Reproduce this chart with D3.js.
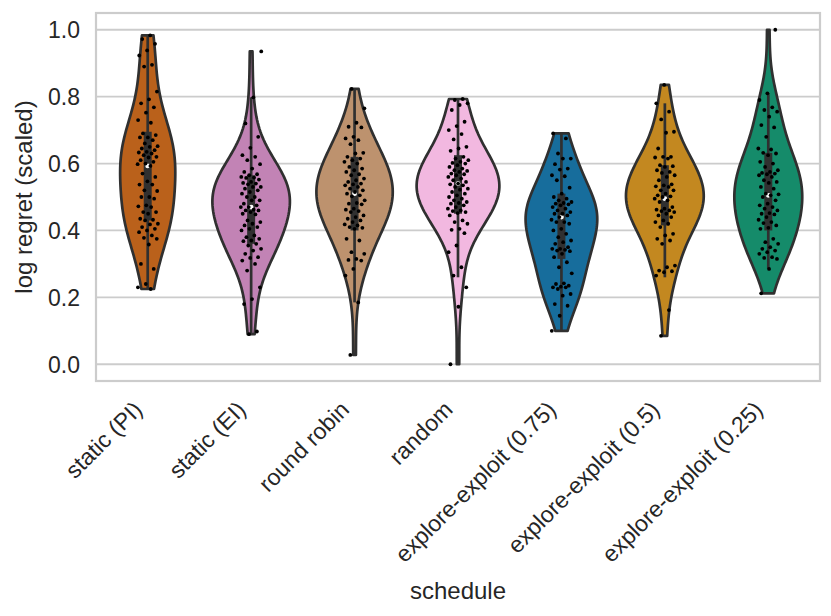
<!doctype html>
<html lang="en">
<head>
  <meta charset="utf-8">
  <title>log regret by schedule</title>
  <style>
    body {
      margin: 0;
      background: #fff;
    }
    svg {
      font-family: "Liberation Sans", Arial, sans-serif;
    }
    .grid line {
      stroke: #cccccc;
      stroke-width: 1.8px;
    }
    .frame {
      fill: none;
      stroke: #cccccc;
      stroke-width: 2.2px;
    }
    .tick-label {
      font-size: 23px;
      fill: #262626;
    }
    .axis-label {
      font-size: 24px;
      fill: #262626;
    }
  </style>
</head>
<body>
  <div id="chart"></div>

  <script src="https://d3js.org/d3.v7.min.js"></script>
  <script>
    // categories and their (desaturated later) colorblind colours
    var schedules = ["static (PI)", "static (EI)", "round robin", "random",
      "explore-exploit (0.75)", "explore-exploit (0.5)", "explore-exploit (0.25)"]
    var baseColors = ["#D55E00", "#CC78BC", "#CA9161", "#FBAFE4", "#0173B2", "#DE8F05", "#029E73"]

    var staticPI = [0.983, 0.972, 0.958, 0.938, 0.923, 0.895, 0.89, 0.815, 0.792, 0.78, 0.768, 0.752,
      0.73, 0.722, 0.69, 0.685, 0.678, 0.678, 0.67, 0.66, 0.652, 0.65, 0.645, 0.64, 0.635, 0.633, 0.63,
      0.625, 0.62, 0.618, 0.61, 0.605, 0.60, 0.598, 0.593, 0.57, 0.56, 0.547, 0.537, 0.537, 0.52, 0.518,
      0.50, 0.50, 0.495, 0.475, 0.472, 0.47, 0.455, 0.455, 0.45, 0.435, 0.432, 0.43, 0.42, 0.418, 0.41,
      0.405, 0.40, 0.395, 0.385, 0.378, 0.375, 0.358, 0.30, 0.285, 0.24, 0.23, 0.225]
    var staticEI = [0.935, 0.798, 0.72, 0.68, 0.647, 0.625, 0.62, 0.61, 0.598, 0.585, 0.575, 0.568,
      0.565, 0.56, 0.558, 0.557, 0.552, 0.545, 0.542, 0.54, 0.538, 0.53, 0.53, 0.525, 0.52, 0.515, 0.51,
      0.50, 0.50, 0.49, 0.49, 0.48, 0.475, 0.47, 0.47, 0.462, 0.46, 0.46, 0.455, 0.45, 0.448, 0.43, 0.425,
      0.42, 0.415, 0.41, 0.405, 0.40, 0.385, 0.38, 0.375, 0.37, 0.368, 0.36, 0.355, 0.345, 0.34, 0.33,
      0.32, 0.318, 0.31, 0.30, 0.28, 0.23, 0.195, 0.18, 0.098, 0.09]
    var roundRobin = [0.823, 0.765, 0.722, 0.71, 0.708, 0.68, 0.675, 0.67, 0.658, 0.632, 0.63, 0.62,
      0.615, 0.61, 0.605, 0.60, 0.59, 0.585, 0.58, 0.575, 0.568, 0.565, 0.555, 0.55, 0.545, 0.54, 0.538,
      0.535, 0.53, 0.525, 0.52, 0.515, 0.51, 0.505, 0.502, 0.49, 0.482, 0.48, 0.478, 0.465, 0.462, 0.458,
      0.455, 0.445, 0.44, 0.435, 0.43, 0.425, 0.418, 0.415, 0.41, 0.408, 0.405, 0.375, 0.37, 0.335, 0.33,
      0.315, 0.312, 0.31, 0.285, 0.265, 0.185, 0.028]
    var randomSched = [0.793, 0.79, 0.78, 0.775, 0.76, 0.725, 0.712, 0.70, 0.688, 0.672, 0.65, 0.645,
      0.638, 0.62, 0.615, 0.61, 0.605, 0.602, 0.60, 0.595, 0.59, 0.585, 0.58, 0.578, 0.575, 0.57, 0.568,
      0.565, 0.56, 0.555, 0.55, 0.545, 0.54, 0.538, 0.535, 0.53, 0.525, 0.522, 0.515, 0.51, 0.505, 0.50,
      0.495, 0.49, 0.485, 0.482, 0.48, 0.475, 0.47, 0.465, 0.46, 0.458, 0.455, 0.452, 0.445, 0.43,
      0.425, 0.42, 0.405, 0.402, 0.392, 0.355, 0.335, 0.29, 0.265, 0.23, 0.172, 0.0]
    var explore075 = [0.69, 0.675, 0.63, 0.615, 0.615, 0.598, 0.585, 0.582, 0.565, 0.562, 0.55, 0.528,
      0.51, 0.50, 0.495, 0.49, 0.485, 0.482, 0.48, 0.478, 0.475, 0.47, 0.465, 0.46, 0.455, 0.45, 0.45,
      0.445, 0.44, 0.432, 0.425, 0.425, 0.42, 0.405, 0.40, 0.39, 0.38, 0.37, 0.365, 0.36, 0.35, 0.345,
      0.345, 0.342, 0.34, 0.338, 0.33, 0.32, 0.305, 0.29, 0.272, 0.242, 0.24, 0.235, 0.232, 0.23, 0.23,
      0.225, 0.21, 0.205, 0.18, 0.175, 0.145, 0.10]
    var explore05 = [0.835, 0.78, 0.755, 0.732, 0.695, 0.692, 0.645, 0.62, 0.62, 0.618, 0.615, 0.595,
      0.592, 0.59, 0.58, 0.575, 0.572, 0.565, 0.56, 0.55, 0.538, 0.535, 0.532, 0.53, 0.52, 0.52, 0.51,
      0.505, 0.502, 0.50, 0.495, 0.49, 0.485, 0.47, 0.465, 0.462, 0.46, 0.458, 0.455, 0.45, 0.445, 0.44,
      0.43, 0.425, 0.42, 0.41, 0.39, 0.385, 0.375, 0.37, 0.36, 0.295, 0.29, 0.28, 0.278, 0.275, 0.265,
      0.162, 0.085]
    var explore025 = [1.0, 0.81, 0.79, 0.768, 0.76, 0.755, 0.74, 0.715, 0.708, 0.68, 0.645, 0.642,
      0.632, 0.63, 0.625, 0.605, 0.60, 0.59, 0.58, 0.575, 0.572, 0.57, 0.568, 0.565, 0.56, 0.55, 0.545,
      0.542, 0.53, 0.525, 0.51, 0.508, 0.505, 0.50, 0.49, 0.48, 0.475, 0.47, 0.465, 0.46, 0.452, 0.45,
      0.448, 0.44, 0.432, 0.425, 0.422, 0.415, 0.408, 0.405, 0.375, 0.365, 0.36, 0.35, 0.345, 0.34,
      0.335, 0.33, 0.32, 0.318, 0.315, 0.285, 0.212]

    // inner box
    var boxQ1 = [0.43, 0.36, 0.40, 0.45, 0.315, 0.415, 0.40]
    var boxMedian = [0.593, 0.47, 0.51, 0.54, 0.44, 0.495, 0.505]
    var boxQ3 = [0.695, 0.565, 0.62, 0.625, 0.51, 0.595, 0.632]
    var whiskerLo = [0.225, 0.09, 0.185, 0.26, 0.10, 0.26, 0.285]
    var whiskerHi = [0.983, 0.798, 0.823, 0.793, 0.69, 0.78, 0.81]

    var yTicks = [0, 0.2, 0.4, 0.6, 0.8, 1.0]

    var observations = [staticPI, staticEI, roundRobin, randomSched, explore075, explore05, explore025]

    var width = 831, height = 616
    var plotLeft = 96, plotRight = 820, plotTop = 13, plotBottom = 381
    var gray = "#303030"
    var bwAdjust = 1.2

    var svg = d3.select("#chart").append("svg")
      .attr("width", width)
      .attr("height", height)

    var x = d3.scaleBand().domain(schedules).range([plotLeft, plotRight]).padding(0)
    var y = d3.scaleLinear().domain([-0.05, 1.05]).range([plotBottom, plotTop])

    var colors = baseColors.map(function(c) {
      var h = d3.hsl(c)
      h.s *= 0.75
      return h.formatHex()
    })

    // gaussian kde, scott bandwidth, cut at the data range
    function kde(values) {
      var n = values.length
      var bw = d3.deviation(values) * Math.pow(n, -0.2) * bwAdjust
      var lo = d3.min(values), hi = d3.max(values)
      return d3.range(100).map(function(i) {
        var g = lo + (hi - lo) * i / 99
        var dens = d3.sum(values, function(v) {
          var z = (g - v) / bw
          return Math.exp(-0.5 * z * z)
        }) / (n * bw * Math.sqrt(2 * Math.PI))
        return [g, dens]
      })
    }

    var densities = observations.map(kde)
    var maxDens = d3.max(densities, function(d) { return d3.max(d, function(p) { return p[1] }) })
    var w = d3.scaleLinear().domain([0, maxDens]).range([0, x.bandwidth() * 0.4])

    // grid
    svg.append("g").attr("class", "grid")
      .selectAll("line")
      .data(yTicks)
      .enter().append("line")
      .attr("x1", plotLeft).attr("x2", plotRight)
      .attr("y1", function(d) { return y(d) })
      .attr("y2", function(d) { return y(d) })

    svg.append("rect").attr("class", "frame")
      .attr("x", plotLeft).attr("y", plotTop)
      .attr("width", plotRight - plotLeft).attr("height", plotBottom - plotTop)

    // y tick labels
    svg.append("g").selectAll("text")
      .data(yTicks)
      .enter().append("text")
      .attr("class", "tick-label")
      .attr("x", plotLeft - 16)
      .attr("y", function(d) { return y(d) })
      .attr("dy", "0.36em")
      .attr("text-anchor", "end")
      .text(d3.format(".1f"))

    // x tick labels, rotated
    svg.append("g").selectAll("text")
      .data(schedules)
      .enter().append("text")
      .attr("class", "tick-label")
      .attr("text-anchor", "end")
      .attr("transform", function(d) {
        var cx = x(d) + x.bandwidth() / 2
        return "translate(" + (cx - 4) + "," + (plotBottom + 30) + ") rotate(-45)"
      })
      .text(function(d) { return d })

    svg.append("text").attr("class", "axis-label")
      .attr("x", (plotLeft + plotRight) / 2)
      .attr("y", 599)
      .attr("text-anchor", "middle")
      .text("schedule")

    svg.append("text").attr("class", "axis-label")
      .attr("transform", "translate(32," + ((plotTop + plotBottom) / 2) + ") rotate(-90)")
      .attr("text-anchor", "middle")
      .text("log regret (scaled)")

    // violins
    var violins = svg.append("g").selectAll("g")
      .data(schedules)
      .enter().append("g")

    violins.append("path")
      .attr("d", function(d, i) {
        var cx = x(d) + x.bandwidth() / 2
        var area = d3.area()
          .x0(function(p) { return cx - w(p[1]) })
          .x1(function(p) { return cx + w(p[1]) })
          .y(function(p) { return y(p[0]) })
        return area(densities[i])
      })
      .attr("fill", function(d, i) { return colors[i] })
      .attr("stroke", gray)
      .attr("stroke-width", 2.7)
      .attr("stroke-linejoin", "round")

    violins.append("line")
      .attr("x1", function(d) { return x(d) + x.bandwidth() / 2 })
      .attr("x2", function(d) { return x(d) + x.bandwidth() / 2 })
      .attr("y1", function(d, i) { return y(whiskerLo[i]) })
      .attr("y2", function(d, i) { return y(whiskerHi[i]) })
      .attr("stroke", gray)
      .attr("stroke-width", 2.7)

    violins.append("line")
      .attr("x1", function(d) { return x(d) + x.bandwidth() / 2 })
      .attr("x2", function(d) { return x(d) + x.bandwidth() / 2 })
      .attr("y1", function(d, i) { return y(boxQ1[i]) })
      .attr("y2", function(d, i) { return y(boxQ3[i]) })
      .attr("stroke", gray)
      .attr("stroke-width", 8)

    violins.append("circle")
      .attr("cx", function(d) { return x(d) + x.bandwidth() / 2 })
      .attr("cy", function(d, i) { return y(boxMedian[i]) })
      .attr("r", 2.4)
      .attr("fill", "#fff")

    // strip points, spread evenly across +-0.1 of a category
    violins.each(function(d, i) {
      var cx = x(d) + x.bandwidth() / 2
      d3.select(this).selectAll("circle.pt")
        .data(observations[i])
        .enter().append("circle")
        .attr("class", "pt")
        .attr("cx", function(v, j) {
          var u = ((j + 1) * 0.6180339887 + i * 0.37) % 1
          return cx + (u * 2 - 1) * 0.1 * x.bandwidth()
        })
        .attr("cy", function(v) { return y(v) })
        .attr("r", 1.9)
        .attr("fill", "#000")
    })
  </script>
</body>
</html>
